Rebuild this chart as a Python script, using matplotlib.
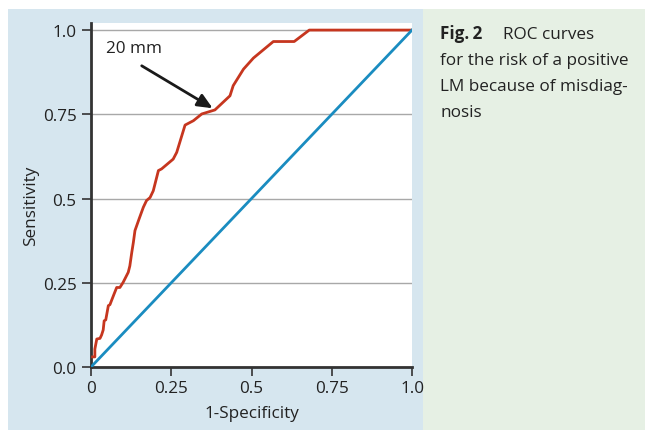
import matplotlib
matplotlib.use('Agg')
import matplotlib.pyplot as plt
from matplotlib.patches import Rectangle

plt.rcParams['font.family'] = ['Open Sans', 'DejaVu Sans']

# ROC curve
fpr = [0.005, 0.012, 0.012, 0.018, 0.028, 0.033, 0.038, 0.041, 0.046, 0.054,
       0.059, 0.070, 0.080, 0.090, 0.100, 0.116, 0.121, 0.127, 0.132, 0.137,
       0.150, 0.163, 0.173, 0.184, 0.194, 0.210, 0.220, 0.256, 0.267, 0.293,
       0.319, 0.345, 0.386, 0.433, 0.443, 0.475, 0.506, 0.568, 0.633, 0.680, 1.0]
tpr = [0.030, 0.030, 0.053, 0.083, 0.085, 0.095, 0.110, 0.137, 0.140, 0.182,
       0.185, 0.212, 0.236, 0.236, 0.251, 0.281, 0.300, 0.340, 0.370, 0.405,
       0.440, 0.474, 0.494, 0.503, 0.523, 0.583, 0.588, 0.617, 0.637, 0.718,
       0.731, 0.751, 0.763, 0.805, 0.835, 0.884, 0.917, 0.966, 0.966, 1.0, 1.0]
ref_line = [0, 1]
ticks = [0, 0.25, 0.5, 0.75, 1.0]
xtick_labels = ['0', '0.25', '0.5', '0.75', '1.0']
ytick_labels = ['0.0', '0.25', '0.5', '0.75', '1.0']
cut_label = '20 mm'
cut_point = (0.379, 0.768)
arrow_tail = (0.158, 0.894)
label_pos = (0.1355, 0.948)

red = '#c6361f'
blue = '#1a8cc0'
dark = '#333333'
txt = '#222222'
fs = 12.3

fig = plt.figure(figsize=(6.45, 4.31), dpi=100)
fig.patch.set_facecolor('white')
fig.add_artist(Rectangle((8/645, 0), 415/645, 421/431, transform=fig.transFigure,
                         facecolor='#d6e6ef', edgecolor='none', zorder=0))
fig.add_artist(Rectangle((423/645, 0), 222/645, 421/431, transform=fig.transFigure,
                         facecolor='#e6f0e4', edgecolor='none', zorder=0))

ax = fig.add_axes([91/645, 63/431, 321/645, 344/431])
ax.set_facecolor('white')
ax.set_xlim(0, 1)
ax.set_ylim(0, 1.021)
ax.grid(axis='y', color='#a8a8a8', linewidth=1)
ax.set_axisbelow(True)

ax.plot(fpr, tpr, color=red, linewidth=2, zorder=3)
ax.plot(ref_line, ref_line, color=blue, linewidth=2, zorder=4)

ax.text(label_pos[0], label_pos[1], cut_label, fontsize=fs, color=txt,
        ha='center', va='center')
ax.annotate('', xy=cut_point, xytext=arrow_tail,
            arrowprops=dict(arrowstyle='-|>,head_length=0.9,head_width=0.4',
                            color='#1a1a1a', lw=2, shrinkA=0, shrinkB=0))

ax.set_xticks(ticks)
ax.set_xticklabels(xtick_labels)
ax.set_yticks(ticks)
ax.set_yticklabels(ytick_labels)
ax.tick_params(direction='out', length=6.5, width=1.2, color=dark, labelsize=fs,
               labelcolor=txt)
ax.tick_params(axis='y', pad=4)
ax.tick_params(axis='x', pad=3)
for s in ['top', 'right']:
    ax.spines[s].set_visible(False)
for s in ['left', 'bottom']:
    ax.spines[s].set_color(dark)
    ax.spines[s].set_linewidth(2)
ax.set_xlabel('1-Specificity', fontsize=fs, color=txt)
ax.set_ylabel('Sensitivity', fontsize=fs, color=txt)
ax.xaxis.set_label_coords(0.5, -0.11)
ax.yaxis.set_label_coords(-0.163, 0.471)

# caption on the right
fig.text(440/645, 1 - 39/431, 'Fig.\u20092', fontsize=fs, weight='bold', color=txt, va='baseline')
fig.text(503/645, 1 - 39/431, 'ROC curves', fontsize=fs, color=txt, va='baseline')
fig.text(440/645, 1 - 65/431, 'for the risk of a positive', fontsize=fs, color=txt, va='baseline')
fig.text(440/645, 1 - 91/431, 'LM because of misdiag-', fontsize=fs, color=txt, va='baseline')
fig.text(440/645, 1 - 117/431, 'nosis', fontsize=fs, color=txt, va='baseline')

fig.savefig('out.png', dpi=100)
